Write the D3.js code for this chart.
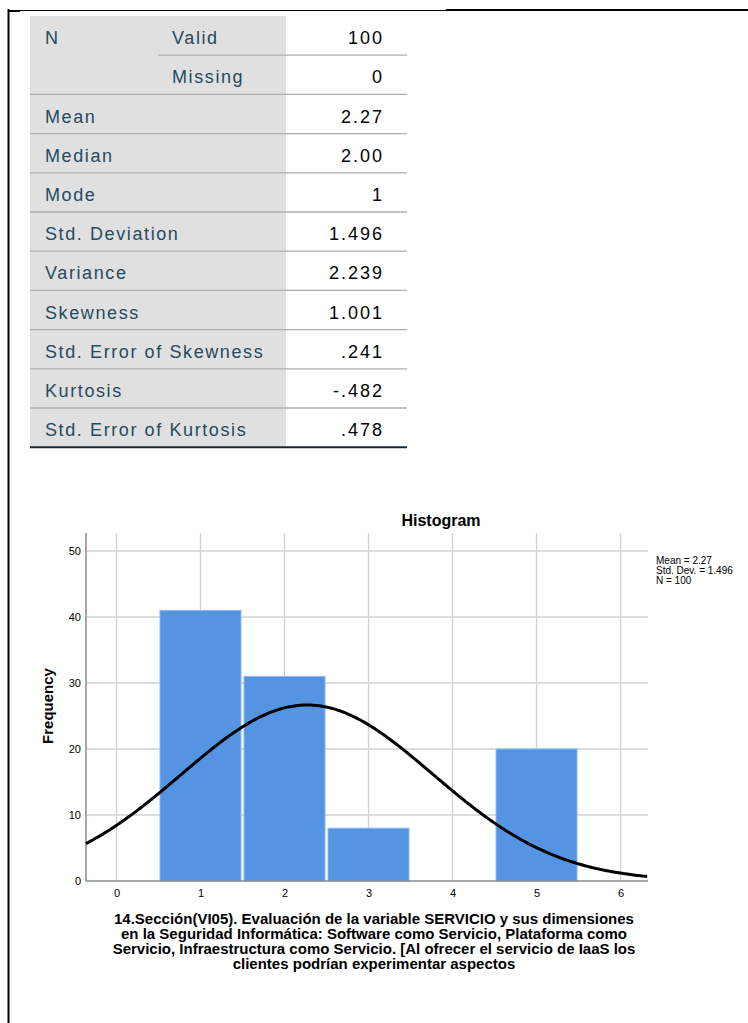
<!DOCTYPE html>
<html>
<head>
<meta charset="utf-8">
<script src="https://cdn.jsdelivr.net/npm/d3@7"></script>
<style>
  html, body { margin: 0; padding: 0; background: #fff; }
  svg { display: block; }
</style>
</head>
<body>
<svg id="page" width="748" height="1023"></svg>
<script>
// Statistics table
const rowGroups = ["N", "", "Mean", "Median", "Mode", "Std. Deviation", "Variance",
  "Skewness", "Std. Error of Skewness", "Kurtosis", "Std. Error of Kurtosis"];
const rowSubLabels = ["Valid", "Missing", "", "", "", "", "", "", "", "", ""];
const rowValues = ["100", "0", "2.27", "2.00", "1", "1.496", "2.239", "1.001", ".241", "-.482", ".478"];

// Histogram data
const binCenters = [1, 2, 3, 4, 5];
const binCounts = [41, 31, 8, 0, 20];
const xTickValues = [0, 1, 2, 3, 4, 5, 6];
const yTickValues = [0, 10, 20, 30, 40, 50];
const meanValue = 2.27;
const sdValue = 1.496;
const nValue = 100;
const legendLines = ["Mean = 2.27", "Std. Dev. = 1.496", "N = 100"];
const xTitleLines = [
  "14.Sección(VI05). Evaluación de la variable SERVICIO y sus dimensiones",
  "en la Seguridad Informática: Software como Servicio, Plataforma como",
  "Servicio, Infraestructura como Servicio. [Al ofrecer el servicio de IaaS los",
  "clientes podrían experimentar aspectos"
];

const svg = d3.select("#page");

// Page frame lines
svg.append("line").attr("x1", 8.5).attr("x2", 8.5).attr("y1", 9).attr("y2", 1023)
  .attr("stroke", "#000").attr("stroke-width", 2);
svg.append("line").attr("x1", 8).attr("x2", 20).attr("y1", 11).attr("y2", 11)
  .attr("stroke", "#000").attr("stroke-width", 2);
svg.append("line").attr("x1", 20).attr("x2", 446).attr("y1", 10.5).attr("y2", 10.5)
  .attr("stroke", "#000").attr("stroke-width", 1);
svg.append("line").attr("x1", 446).attr("x2", 748).attr("y1", 10).attr("y2", 10)
  .attr("stroke", "#000").attr("stroke-width", 2);

// ---- Table ----
const tblLeft = 30, tblGrayRight = 286, tblRight = 407, tblTop = 16, rowH = 39.2;
const rowY = d3.scaleLinear().domain([0, rowValues.length]).range([tblTop, tblTop + rowH * rowValues.length]);
const table = svg.append("g").attr("font-family", "Liberation Sans, Arial, sans-serif")
  .attr("font-size", 18);

table.append("rect").attr("x", tblLeft).attr("y", tblTop)
  .attr("width", tblGrayRight - tblLeft).attr("height", rowH * rowValues.length)
  .attr("fill", "#e0e0e0");

rowValues.forEach((v, i) => {
  const y0 = rowY(i), y1 = rowY(i + 1);
  if (i < rowValues.length - 1) {
    table.append("line")
      .attr("x1", i === 0 ? 158 : tblLeft).attr("x2", tblRight)
      .attr("y1", y1).attr("y2", y1)
      .attr("stroke", "#aeaeae").attr("stroke-width", 1.3);
  }
  const baseline = (y0 + y1) / 2 + 8.5;
  if (rowGroups[i]) {
    table.append("text").attr("x", 45).attr("y", baseline)
      .attr("fill", "#264a60").attr("letter-spacing", 1.6).text(rowGroups[i]);
  }
  if (rowSubLabels[i]) {
    table.append("text").attr("x", 172).attr("y", baseline)
      .attr("fill", "#264a60").attr("letter-spacing", 1.6).text(rowSubLabels[i]);
  }
  table.append("text").attr("x", 384).attr("y", baseline)
    .attr("text-anchor", "end").attr("fill", "#010205").attr("letter-spacing", 2).text(v);
});
table.append("line").attr("x1", tblLeft).attr("x2", tblRight)
  .attr("y1", rowY(rowValues.length)).attr("y2", rowY(rowValues.length))
  .attr("stroke", "#152935").attr("stroke-width", 2);

// ---- Histogram ----
const plot = { left: 86, right: 648, top: 533, bottom: 881 };
const x = d3.scaleLinear().domain([-0.363, 6.327]).range([plot.left, plot.right]);
const y = d3.scaleLinear().domain([0, 50]).range([plot.bottom, 551]);

const chart = svg.append("g").attr("font-family", "Liberation Sans, Arial, sans-serif");

// grid
chart.append("g").selectAll("line").data(xTickValues).join("line")
  .attr("x1", d => x(d)).attr("x2", d => x(d))
  .attr("y1", plot.top).attr("y2", plot.bottom)
  .attr("stroke", "#d2d2d2").attr("stroke-width", 1.3);
chart.append("g").selectAll("line").data(yTickValues.filter(d => d > 0)).join("line")
  .attr("x1", plot.left).attr("x2", plot.right)
  .attr("y1", d => y(d)).attr("y2", d => y(d))
  .attr("stroke", "#d2d2d2").attr("stroke-width", 1.3);

// bars
const binWidth = 1;
chart.append("g").selectAll("rect").data(binCenters.map((c, i) => ({ c, n: binCounts[i] })).filter(d => d.n > 0))
  .join("rect")
  .attr("x", d => x(d.c - binWidth / 2) + 1.5)
  .attr("width", d => x(d.c + binWidth / 2) - x(d.c - binWidth / 2) - 3)
  .attr("y", d => y(d.n))
  .attr("height", d => y(0) - y(d.n))
  .attr("fill", "#5594e3")
  .attr("stroke", "#8fb8ef").attr("stroke-width", 1);

// axes
const yAxis = d3.axisLeft(y).tickValues(yTickValues).tickFormat(d3.format("d")).tickSize(0).tickPadding(5);
const yG = chart.append("g").attr("transform", `translate(${plot.left},0)`).call(yAxis);
yG.select(".domain").remove();
yG.selectAll("text").attr("font-size", 11).attr("fill", "#000").attr("font-family", "Liberation Sans, Arial, sans-serif");

const xAxis = d3.axisBottom(x).tickValues(xTickValues).tickFormat(d3.format("d")).tickSize(0).tickPadding(8);
const xG = chart.append("g").attr("transform", `translate(0,${plot.bottom})`).call(xAxis);
xG.select(".domain").remove();
xG.selectAll("text").attr("font-size", 11).attr("fill", "#000").attr("font-family", "Liberation Sans, Arial, sans-serif");

chart.append("line").attr("x1", plot.left).attr("x2", plot.left)
  .attr("y1", plot.top).attr("y2", plot.bottom).attr("stroke", "#8a8a8a").attr("stroke-width", 1.5);
chart.append("line").attr("x1", plot.left).attr("x2", plot.right)
  .attr("y1", plot.bottom).attr("y2", plot.bottom).attr("stroke", "#8a8a8a").attr("stroke-width", 1.5);

// normal curve scaled to counts
const normalFreq = v => nValue * binWidth * Math.exp(-0.5 * Math.pow((v - meanValue) / sdValue, 2)) / (sdValue * Math.sqrt(2 * Math.PI));
const curveX = d3.range(x.domain()[0], x.domain()[1] + 0.001, 0.02);
chart.append("path").datum(curveX)
  .attr("d", d3.line().x(d => x(d)).y(d => y(normalFreq(d))).curve(d3.curveMonotoneX))
  .attr("fill", "none").attr("stroke", "#000").attr("stroke-width", 3);

// titles
chart.append("text").attr("x", 441).attr("y", 526).attr("text-anchor", "middle")
  .attr("font-size", 16).attr("font-weight", "bold").text("Histogram");

chart.append("text").attr("transform", `translate(53,${(plot.top + plot.bottom) / 2 - 1}) rotate(-90)`)
  .attr("text-anchor", "middle").attr("font-size", 15).attr("font-weight", "bold").text("Frequency");

chart.append("g").selectAll("text").data(legendLines).join("text")
  .attr("x", 656).attr("y", (d, i) => 563.5 + i * 10)
  .attr("font-size", 10).attr("fill", "#000").text(d => d);

chart.append("g").selectAll("text").data(xTitleLines).join("text")
  .attr("x", 374).attr("y", (d, i) => 924 + i * 15)
  .attr("text-anchor", "middle").attr("font-size", 15).attr("font-weight", "bold")
  .attr("fill", "#000").text(d => d);
</script>
</body>
</html>
